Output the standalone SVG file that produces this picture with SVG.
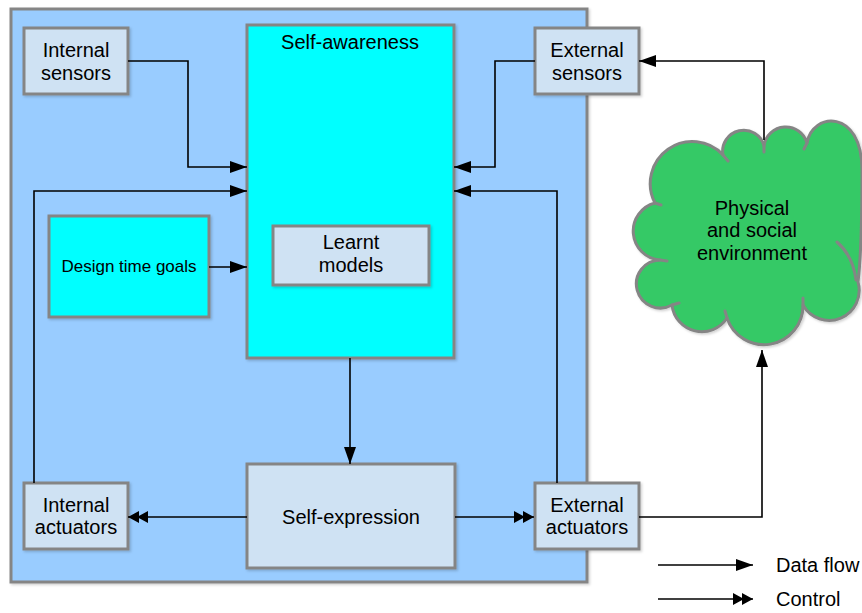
<svg xmlns="http://www.w3.org/2000/svg" width="862" height="613" viewBox="0 0 862 613">
  <style>
    .box { stroke: #858585; stroke-width: 3; filter: url(#shadow); }
    .outer { fill: #99ccff; }
    .aware { fill: #00ffff; }
    .comp { fill: #cfe2f3; }
    .lbl { font-family: "Liberation Sans", Arial, sans-serif; font-size: 20px; fill: #000; text-anchor: middle; }
    .legend { font-family: "Liberation Sans", Arial, sans-serif; font-size: 20px; fill: #000; }
    .wire { fill: none; stroke: #000; stroke-width: 1.6; }
    .data { marker-end: url(#data); }
    .ctrl { marker-end: url(#ctrl); }
    .cloud { fill: #35c966; stroke: #858585; stroke-width: 3; stroke-linejoin: round; filter: url(#shadow); }
    .tail { fill: none; stroke: #858585; stroke-width: 3; stroke-linecap: round; }
  </style>
  <defs>
    <filter id="shadow" x="-5%" y="-5%" width="115%" height="115%">
      <feDropShadow dx="1.5" dy="1.5" stdDeviation="0.8" flood-color="#000" flood-opacity="0.18"/>
    </filter>
    <marker id="data" markerUnits="userSpaceOnUse" markerWidth="18" markerHeight="13" refX="17" refY="6" orient="auto">
      <path d="M0,0 L17,6 L0,12 z" fill="#000"/>
    </marker>
    <marker id="ctrl" markerUnits="userSpaceOnUse" markerWidth="21" markerHeight="13" refX="20" refY="6" orient="auto">
      <path d="M0,0 L11,6 L0,12 z M9,0 L20,6 L9,12 z" fill="#000"/>
    </marker>
  </defs>

  <!-- system boundary -->
  <g id="system">
    <rect class="box outer" x="11" y="9" width="576" height="573"/>
  </g>

  <g id="self-awareness">
    <rect class="box aware" x="247" y="25" width="207" height="333"/>
    <text class="lbl" x="350" y="49">Self-awareness</text>
  </g>

  <g id="learnt-models">
    <rect class="box comp" x="273" y="226" width="156" height="59"/>
    <text class="lbl" x="351" y="249">Learnt</text>
    <text class="lbl" x="351" y="272">models</text>
  </g>

  <g id="design-time-goals">
    <rect class="box aware" x="49" y="216" width="160" height="101"/>
    <text class="lbl" x="129" y="272" style="font-size:17px">Design time goals</text>
  </g>

  <g id="internal-sensors">
    <rect class="box comp" x="24" y="28" width="104" height="66"/>
    <text class="lbl" x="76" y="57">Internal</text>
    <text class="lbl" x="76" y="80">sensors</text>
  </g>

  <g id="external-sensors">
    <rect class="box comp" x="535" y="28" width="104" height="66"/>
    <text class="lbl" x="587" y="57">External</text>
    <text class="lbl" x="587" y="80">sensors</text>
  </g>

  <g id="internal-actuators">
    <rect class="box comp" x="24" y="483" width="104" height="66"/>
    <text class="lbl" x="76" y="512">Internal</text>
    <text class="lbl" x="76" y="534">actuators</text>
  </g>

  <g id="self-expression">
    <rect class="box comp" x="247" y="464" width="208" height="104"/>
    <text class="lbl" x="351" y="524">Self-expression</text>
  </g>

  <g id="external-actuators">
    <rect class="box comp" x="535" y="483" width="104" height="66"/>
    <text class="lbl" x="587" y="512">External</text>
    <text class="lbl" x="587" y="534">actuators</text>
  </g>

  <g id="environment">
    <path class="cloud" d="M723,155
      A21,21 0 0 1 764,146
      A22,22 0 0 1 807,143
      C812,112 862,108 862,170
      C862,220 861,258 858,282
      A30,30 0 0 1 803,305
      A39,39 0 0 1 727,318
      A30,30 0 0 1 672,305
      A24,24 0 1 1 660,260
      A29,29 0 0 1 655,203
      A42,42 0 0 1 723,155 z"/>
    <!-- inner arc ends where the cloud lobes overlap -->
    <path class="tail" d="M723,155 l5,6 M764,146 l0,6 M807,143 l-3,6 M837,242 Q853,256 856,280 M803,305 l0,-7 M727,318 l-2,-7 M672,305 l7,-2 M660,260 l7,1 M655,203 l6,2"/>
    <text class="lbl" x="752" y="215">Physical</text>
    <text class="lbl" x="752" y="237">and social</text>
    <text class="lbl" x="752" y="260">environment</text>
  </g>

  <!-- connectors -->
  <g id="connectors">
    <path class="wire data" d="M128,61 H188 V167 H247"/>
    <path class="wire data" d="M34,483 V191 H247"/>
    <path class="wire data" d="M209,267 H247"/>
    <path class="wire data" d="M535,61 H495 V167 H454"/>
    <path class="wire data" d="M557,483 V191 H454"/>
    <path class="wire data" d="M764,140 V61 H639"/>
    <path class="wire data" d="M350,358 V464"/>
    <path class="wire ctrl" d="M247,517 H128"/>
    <path class="wire ctrl" d="M455,517 H534"/>
    <path class="wire data" d="M639,517 H762 V350"/>
  </g>

  <!-- key -->
  <g id="legend">
    <path class="wire data" d="M658,565 H753"/>
    <text class="legend" x="776" y="572">Data flow</text>
    <path class="wire ctrl" d="M658,599 H753"/>
    <text class="legend" x="776" y="606">Control</text>
  </g>
</svg>
